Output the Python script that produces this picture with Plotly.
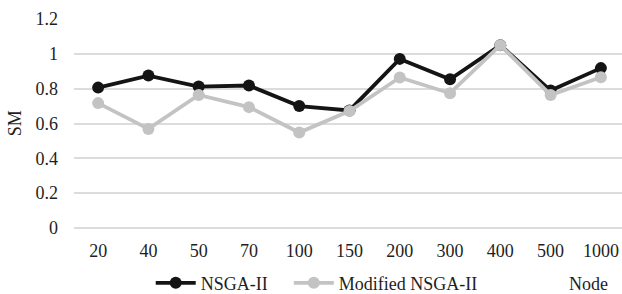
import plotly.graph_objects as go

nodes = ["20", "40", "50", "70", "100", "150", "200", "300", "400", "500", "1000"]
nsga2 = [0.806, 0.875, 0.812, 0.818, 0.70, 0.675, 0.971, 0.854, 1.05, 0.789, 0.918]
modified = [0.717, 0.569, 0.764, 0.694, 0.548, 0.672, 0.864, 0.774, 1.05, 0.764, 0.866]
y_ticks = [0, 0.2, 0.4, 0.6, 0.8, 1, 1.2]
y_tick_text = ["0", "0.2", "0.4", "0.6", "0.8", "1", "1.2"]

font_family = "Liberation Serif"
text_color = "#1e1e1e"
fs = 18

fig = go.Figure()
fig.add_trace(go.Scatter(
    x=nodes, y=nsga2, name="NSGA-II", mode="lines+markers", legend="legend",
    line=dict(color="#141414", width=3.8),
    marker=dict(color="#141414", size=12),
))
fig.add_trace(go.Scatter(
    x=nodes, y=modified, name="Modified NSGA-II", mode="lines+markers", legend="legend2",
    line=dict(color="#c3c3c3", width=3.8),
    marker=dict(color="#c3c3c3", size=12),
))

legend_common = dict(orientation="h", xanchor="left", y=-0.175, yanchor="top",
                     font=dict(family=font_family, size=fs, color=text_color),
                     itemwidth=40, tracegroupgap=0, bgcolor="rgba(0,0,0,0)")

fig.update_layout(
    width=622, height=294,
    margin=dict(l=74, r=0, t=19, b=66, autoexpand=False),
    paper_bgcolor="white", plot_bgcolor="white",
    font=dict(family=font_family, size=fs, color=text_color),
    showlegend=True,
    legend=dict(x=0.14, **legend_common),
    legend2=dict(x=0.392, **legend_common),
    xaxis=dict(type="category", range=[-0.48, 10.42], showgrid=False, zeroline=False,
               showline=False, ticks="", automargin=False, ticklabelstandoff=10,
               tickfont=dict(family=font_family, size=fs, color=text_color)),
    yaxis=dict(range=[0, 1.2], tickvals=y_ticks, ticktext=y_tick_text,
               showgrid=True, gridcolor="#dcdcdc", gridwidth=1.5, zeroline=True,
               zerolinecolor="#dcdcdc", zerolinewidth=1.5, showline=False, ticks="",
               ticklen=0, automargin=False, ticklabelstandoff=15,
               tickfont=dict(family=font_family, size=fs, color=text_color)),
    annotations=[
        dict(text="Node", xref="paper", yref="paper", x=0.978, y=-0.21,
             xanchor="right", yanchor="top", showarrow=False,
             font=dict(family=font_family, size=fs, color=text_color)),
        dict(text="SM", xref="paper", yref="paper", x=-0.108, y=0.5,
             xanchor="center", yanchor="middle", textangle=-90, showarrow=False,
             font=dict(family=font_family, size=fs, color=text_color)),
    ],
)

fig.write_html("out.html", config={"displayModeBar": False},
               post_script="document.body.style.margin='0';")
